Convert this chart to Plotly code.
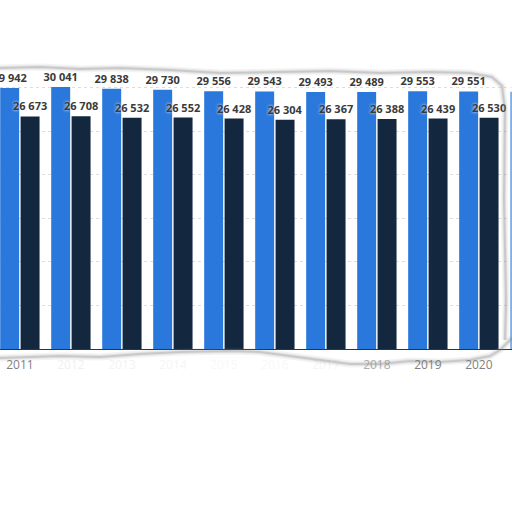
import plotly.graph_objects as go

# data
years = ["2011", "2012", "2013", "2014", "2015", "2016", "2017", "2018", "2019", "2020", "2021"]
blue_vals = [29942, 30041, 29838, 29730, 29556, 29543, 29493, 29489, 29553, 29551, 29500]
dark_vals = [26673, 26708, 26532, 26552, 26428, 26304, 26367, 26388, 26439, 26530, None]

W, H = 512, 512
TOP, BASE = 60, 349  # plot top / baseline in px

# tick labels: only a few survive the torn edge, the rest are faded
faded = {"2012": "#f0f0f0", "2013": "#f3f3f3", "2014": "#f5f5f5", "2015": "#f8f8f8",
         "2016": "#f8f8f8", "2017": "#f6f6f6", "2018": "#b0b0b0", "2021": "#ffffff"}
ticktext = ['<span style="color:%s">%s</span>' % (faded.get(y, "#808080"), y) for y in years]


def px2paper(pts):
    # pixel points -> paper coords (margins l=r=0)
    out = []
    for i, (x, y) in enumerate(pts):
        out.append(("M" if i == 0 else "L") + " %.4f,%.4f" % (x / W, (BASE - y) / (BASE - TOP)))
    return " ".join(out)


fig = go.Figure()
fig.add_trace(go.Bar(x=years, y=blue_vals, name="a", marker_color="#2a78dc",
                     texttemplate="%{y:,}", textposition="outside", cliponaxis=False))
fig.add_trace(go.Bar(x=years, y=dark_vals, name="b", marker_color="#13283f",
                     texttemplate="%{y:,}", textposition="outside", cliponaxis=False))
fig.update_traces(marker_line_width=0, constraintext="none",
                  textfont=dict(family="Open Sans", size=11, color="#3a3a3a",
                                weight="bold", shadow="0px 0px 3px white"))

# torn paper edges
top_edge = [(0, 68), (40, 67), (80, 69), (120, 68), (170, 70), (220, 73), (280, 72), (330, 71),
            (380, 73), (430, 72), (470, 73), (492, 77), (502, 86), (505, 110), (504, 200),
            (506, 300), (505, 340)]
bottom_edge = [(0, 358), (30, 357), (60, 356), (100, 357), (140, 354), (180, 352), (230, 351),
               (260, 352), (290, 356), (320, 360), (350, 364), (380, 364), (410, 361),
               (440, 362), (470, 360), (490, 356), (500, 350), (506, 344), (512, 338)]
shapes = [dict(type="rect", xref="paper", yref="paper", x0=506 / W, x1=1,
               y0=0, y1=1.05, fillcolor="white", opacity=0.4, line_width=0, layer="above")]
for lw, op in [(7, 0.09), (4, 0.13), (2, 0.25)]:
    for edge in (top_edge, bottom_edge):
        shapes.append(dict(type="path", xref="paper", yref="paper", path=px2paper(edge),
                           line=dict(color="#808080", width=lw), opacity=op, layer="above"))

fig.update_layout(
    width=W, height=H,
    margin=dict(l=0, r=0, t=TOP, b=H - BASE, autoexpand=False),
    paper_bgcolor="white", plot_bgcolor="white",
    barmode="group", bargap=0.2, bargroupgap=0.07,
    separators=". ",
    showlegend=False,
    shapes=shapes,
    xaxis=dict(range=[-0.39, 9.65], tickvals=years, ticktext=ticktext,
               tickfont=dict(family="Open Sans", size=12), automargin=False,
               ticklabelstandoff=5,
               showline=True, linecolor="#333333", linewidth=1, ticks=""),
    yaxis=dict(range=[0, 33150], dtick=5000, showticklabels=False, automargin=False,
               showgrid=True, gridcolor="#dddddd", griddash="dot", gridwidth=1,
               zeroline=False),
)

# page has a default 8px body margin; drop it so the figure sits at the corner
fig.write_html("out.html", config={"displayModeBar": False},
               post_script="document.body.style.margin='0';")
